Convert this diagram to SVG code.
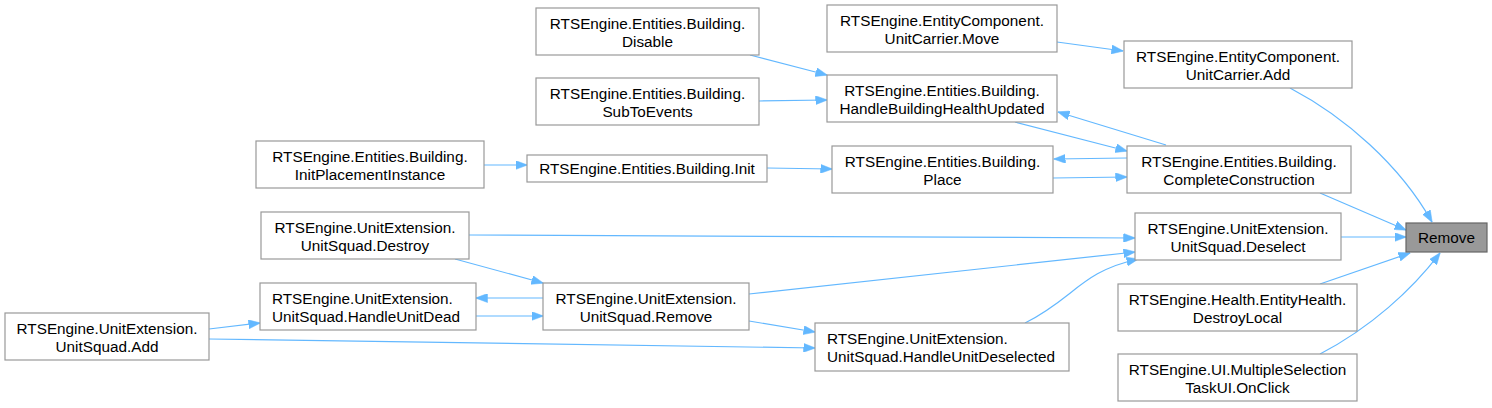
<svg xmlns="http://www.w3.org/2000/svg" width="1492" height="408" viewBox="0 0 1492 408">
<style>
.n rect{fill:#ffffff;stroke:#999999;stroke-width:1.2}
.n.hl rect{fill:#999999;stroke:#666666}
text{font-family:"Liberation Sans",Arial,sans-serif;font-size:15.3px;fill:#000000}
.c{text-anchor:middle}
.e path{fill:none;stroke:#63b8ff;stroke-width:1.2;marker-end:url(#ah)}
</style>
<defs>
<marker id="ah" viewBox="0 0 12 9" refX="11.5" refY="4.5" markerWidth="12" markerHeight="9" orient="auto" markerUnits="userSpaceOnUse">
<path d="M0,0 L12,4.5 L0,9 z" fill="#63b8ff" stroke="#63b8ff" stroke-width="0.5"/>
</marker>
</defs>
<rect width="1492" height="408" fill="#ffffff"/>
<g class="e" id="edges">
<path d="M1057,42 L1123,51"/>
<path d="M1290,88 C1345,117 1400,165 1432,222"/>
<path d="M750,55 L827,75"/>
<path d="M759,101 L827,100"/>
<path d="M1166,145 L1058,112"/>
<path d="M1015,122 L1127,151"/>
<path d="M1127,158 L1054,159"/>
<path d="M1053,178 L1127,177"/>
<path d="M484,165 L527,165"/>
<path d="M767,168 L832,169"/>
<path d="M1320,193 L1406,230"/>
<path d="M1341,237 L1406,237"/>
<path d="M1320,284 L1410,253"/>
<path d="M1320,354 C1370,328 1412,290 1440,253"/>
<path d="M469,235 L1135,238"/>
<path d="M455,259 L543,283"/>
<path d="M543,298 L476,298"/>
<path d="M476,316 L543,316"/>
<path d="M209,329 L260,323"/>
<path d="M209,339 L815,348"/>
<path d="M749,294 L1135,252"/>
<path d="M749,321 L815,332"/>
<path d="M1025,323 C1075,298 1080,272 1138,259"/>
</g>
<g class="n" id="n_move"><rect x="827" y="5" width="230" height="47"/><text class="c" x="942" y="25.5">RTSEngine.EntityComponent.</text><text class="c" x="942" y="43.5">UnitCarrier.Move</text></g>
<g class="n" id="n_disable"><rect x="536" y="8" width="223" height="47"/><text class="c" x="647.5" y="28.5">RTSEngine.Entities.Building.</text><text class="c" x="647.5" y="46.5">Disable</text></g>
<g class="n" id="n_carrier_add"><rect x="1124" y="41" width="228" height="47"/><text class="c" x="1238" y="61.5">RTSEngine.EntityComponent.</text><text class="c" x="1238" y="79.5">UnitCarrier.Add</text></g>
<g class="n" id="n_sub"><rect x="536" y="78" width="223" height="47"/><text class="c" x="647.5" y="98.5">RTSEngine.Entities.Building.</text><text class="c" x="647.5" y="116.5">SubToEvents</text></g>
<g class="n" id="n_hbhu"><rect x="827" y="75" width="230" height="47"/><text class="c" x="942" y="95.5">RTSEngine.Entities.Building.</text><text class="c" x="942" y="113.5">HandleBuildingHealthUpdated</text></g>
<g class="n" id="n_ipi"><rect x="256" y="141" width="228" height="47"/><text class="c" x="370" y="161.5">RTSEngine.Entities.Building.</text><text class="c" x="370" y="179.5">InitPlacementInstance</text></g>
<g class="n" id="n_init"><rect x="527" y="155" width="240" height="27"/><text class="c" x="647" y="173.5">RTSEngine.Entities.Building.Init</text></g>
<g class="n" id="n_place"><rect x="832" y="146" width="221" height="47"/><text class="c" x="942.5" y="166.5">RTSEngine.Entities.Building.</text><text class="c" x="942.5" y="184.5">Place</text></g>
<g class="n" id="n_cc"><rect x="1127" y="146" width="224" height="47"/><text class="c" x="1239" y="166.5">RTSEngine.Entities.Building.</text><text class="c" x="1239" y="184.5">CompleteConstruction</text></g>
<g class="n" id="n_destroy"><rect x="261" y="212" width="208" height="47"/><text class="c" x="365" y="232.5">RTSEngine.UnitExtension.</text><text class="c" x="365" y="250.5">UnitSquad.Destroy</text></g>
<g class="n" id="n_deselect"><rect x="1135" y="213" width="206" height="47"/><text class="c" x="1238" y="233.5">RTSEngine.UnitExtension.</text><text class="c" x="1238" y="251.5">UnitSquad.Deselect</text></g>
<g class="n hl" id="n_remove"><rect x="1406" y="223" width="81" height="29"/><text class="c" x="1446.5" y="243">Remove</text></g>
<g class="n" id="n_hud"><rect x="260" y="283" width="216" height="47"/><text x="272" y="303.5">RTSEngine.UnitExtension.</text><text x="272" y="321.5">UnitSquad.HandleUnitDead</text></g>
<g class="n" id="n_usremove"><rect x="543" y="283" width="206" height="47"/><text class="c" x="646" y="303.5">RTSEngine.UnitExtension.</text><text class="c" x="646" y="321.5">UnitSquad.Remove</text></g>
<g class="n" id="n_destroylocal"><rect x="1118" y="284" width="239" height="47"/><text class="c" x="1237.5" y="304.5">RTSEngine.Health.EntityHealth.</text><text class="c" x="1237.5" y="322.5">DestroyLocal</text></g>
<g class="n" id="n_usadd"><rect x="5" y="313" width="204" height="47"/><text class="c" x="107" y="333.5">RTSEngine.UnitExtension.</text><text class="c" x="107" y="351.5">UnitSquad.Add</text></g>
<g class="n" id="n_hudesel"><rect x="815" y="323" width="254" height="48"/><text x="827" y="343.5">RTSEngine.UnitExtension.</text><text x="827" y="361.5">UnitSquad.HandleUnitDeselected</text></g>
<g class="n" id="n_onclick"><rect x="1118" y="354" width="239" height="47"/><text class="c" x="1237.5" y="374.5">RTSEngine.UI.MultipleSelection</text><text class="c" x="1237.5" y="392.5">TaskUI.OnClick</text></g>
</svg>
